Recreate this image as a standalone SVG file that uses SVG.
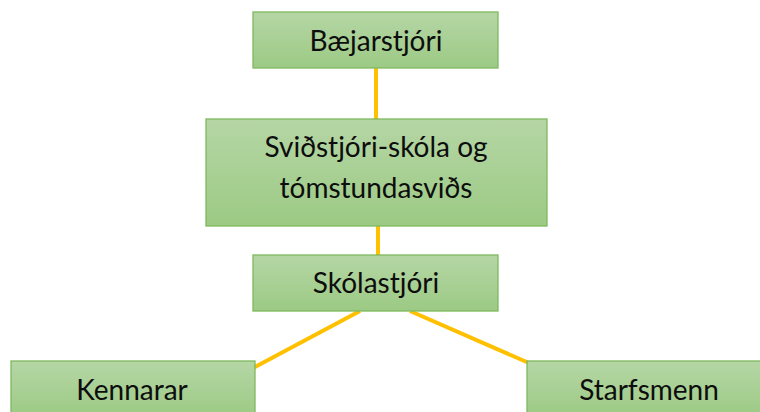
<svg xmlns="http://www.w3.org/2000/svg" width="760" height="412" viewBox="0 0 760 412">
<defs>
<linearGradient id="g" x1="0" y1="0" x2="0" y2="1">
<stop offset="0" stop-color="#b5d6a5"/>
<stop offset="1" stop-color="#9cca84"/>
</linearGradient>
<style>
.box{fill:url(#g);stroke:#7fb85e;stroke-width:1.3}
.t{font-family:Lato,"Liberation Sans",sans-serif;font-size:28px;fill:#0d0d0d;text-anchor:middle}
.c{stroke:#ffc000;stroke-width:4;fill:none}
</style>
</defs>
<rect width="760" height="412" fill="#ffffff"/>
<g id="connectors">
<line class="c" x1="376" y1="68" x2="376" y2="119"/>
<line class="c" x1="378" y1="226" x2="378" y2="255"/>
<line class="c" x1="360" y1="311" x2="253" y2="368"/>
<line class="c" x1="410" y1="311" x2="529" y2="363"/>
</g>
<g id="n1">
<rect class="box" x="253" y="12" width="245" height="56"/>
<text class="t" x="376" y="51">Bæjarstjóri</text>
</g>
<g id="n2">
<rect class="box" x="206" y="119" width="341" height="107"/>
<text class="t" x="376" y="157">Sviðstjóri-skóla og</text>
<text class="t" x="376" y="198">tómstundasviðs</text>
</g>
<g id="n3">
<rect class="box" x="253" y="255" width="245" height="56"/>
<text class="t" x="376" y="293">Skólastjóri</text>
</g>
<g id="n4">
<rect class="box" x="11" y="361" width="244" height="56"/>
<text class="t" x="132" y="400">Kennarar</text>
</g>
<g id="n5">
<rect class="box" x="527" y="361" width="240" height="56"/>
<text class="t" x="649" y="400">Starfsmenn</text>
</g>
</svg>
